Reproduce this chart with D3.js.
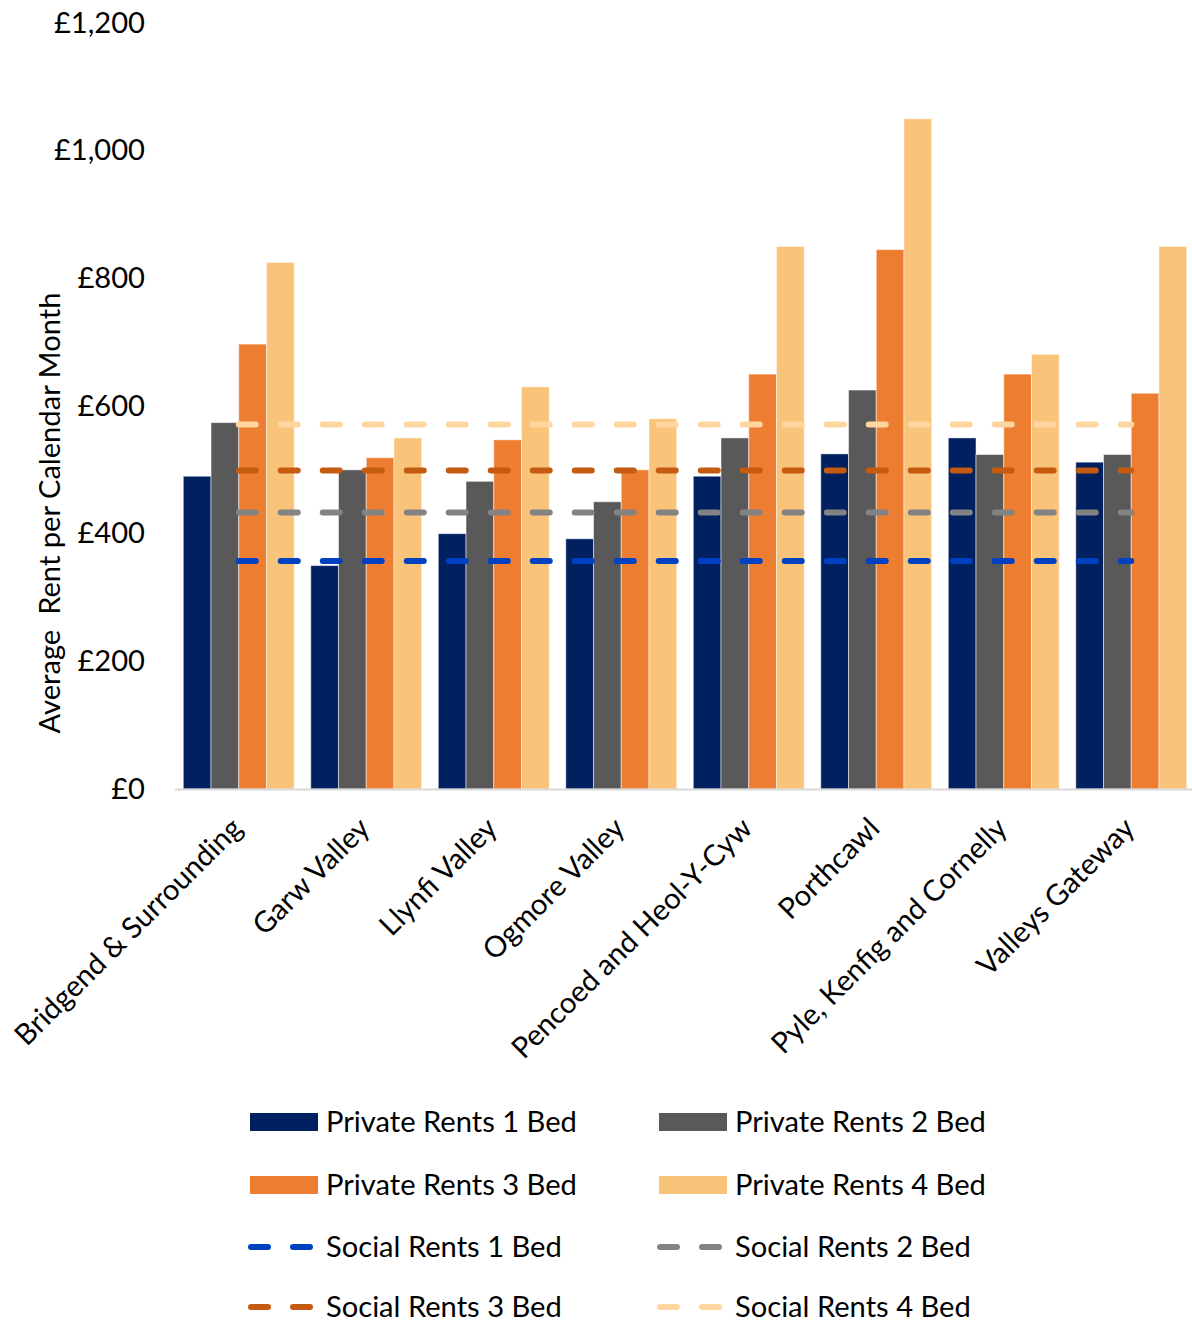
<!DOCTYPE html>
<html>
<head>
<meta charset="utf-8">
<script src="https://cdn.jsdelivr.net/npm/d3@7"></script>
<style>
  html, body { margin: 0; padding: 0; background: #fff; }
  svg text { font-family: Lato, "Open Sans", sans-serif; fill: #000; white-space: pre; }
</style>
</head>
<body>
<svg id="chart" width="1192" height="1323"></svg>
<script>
const categories = ["Bridgend & Surrounding", "Garw Valley", "Llynfi Valley", "Ogmore Valley",
  "Pencoed and Heol-Y-Cyw", "Porthcawl", "Pyle, Kenfig and Cornelly", "Valleys Gateway"];
const private1 = [490, 350, 400, 392, 490, 525, 550, 512];
const private2 = [574, 500, 482, 450, 550, 625, 524, 524];
const private3 = [697, 519, 547, 500, 650, 845, 650, 620];
const private4 = [825, 550, 630, 580, 850, 1050, 681, 850];
const social1 = [357, 357, 357, 357, 357, 357, 357, 357];
const social2 = [433, 433, 433, 433, 433, 433, 433, 433];
const social3 = [499, 499, 499, 499, 499, 499, 499, 499];
const social4 = [571, 571, 571, 571, 571, 571, 571, 571];
const yTicks = [0, 200, 400, 600, 800, 1000, 1200];
const barSeriesNames = ["Private Rents 1 Bed", "Private Rents 2 Bed", "Private Rents 3 Bed", "Private Rents 4 Bed"];
const lineSeriesNames = ["Social Rents 1 Bed", "Social Rents 2 Bed", "Social Rents 3 Bed", "Social Rents 4 Bed"];
const yTitle = "Average  Rent per Calendar Month";

const barColors = ["#002060", "#595959", "#ED7D31", "#FAC37A"];
const lineColors = ["#0041C2", "#838383", "#C55A11", "#FFD6A0"];

const barSeries = [private1, private2, private3, private4];
const lineSeries = [social1, social2, social3, social4];

const svg = d3.select("#chart");

// font size fitting: make legend label match reference width
const probe = svg.append("text").style("font-size", "100px").text("Private Rents 1 Bed");
const w100 = probe.node().getComputedTextLength();
probe.remove();
const fs = 251 / w100 * 100;

const x = d3.scaleBand().domain(categories).range([175, 1195]).paddingInner(0.13).paddingOuter(0.065);
const xs = d3.scaleBand().domain(d3.range(4)).range([0, x.bandwidth()]);
const y = d3.scaleLinear().domain([0, 1200]).range([789, 23]);

// bars
const groups = svg.append("g").selectAll("g").data(categories).join("g")
  .attr("transform", d => `translate(${x(d)},0)`);
groups.selectAll("rect").data((d, i) => barSeries.map((s, k) => ({k, v: s[i]}))).join("rect")
  .attr("x", d => xs(d.k))
  .attr("width", xs.bandwidth())
  .attr("y", d => y(d.v))
  .attr("height", d => y(0) - y(d.v))
  .attr("fill", d => barColors[d.k])
  .attr("stroke", "#ffffff")
  .attr("stroke-opacity", 0.5)
  .attr("stroke-width", 1);

// x axis line
svg.append("line").attr("x1", 175).attr("x2", 1192).attr("y1", y(0) + 0.5).attr("y2", y(0) + 0.5)
  .attr("stroke", "#D9D9D9").attr("stroke-width", 2);

// social lines
const line = d3.line().x((d, i) => x(categories[i]) + x.bandwidth() / 2).y(d => y(d));
lineSeries.forEach((s, k) => {
  svg.append("path").datum(s).attr("d", line)
    .attr("fill", "none").attr("stroke", lineColors[k]).attr("stroke-width", 6)
    .attr("stroke-linecap", "round").attr("stroke-dasharray", "17,25");
});

// y axis labels
const yAxis = d3.axisLeft(y).tickValues(yTicks).tickSize(0).tickPadding(0)
  .tickFormat(d => "£" + d3.format(",")(d));
const ya = svg.append("g").attr("transform", "translate(145,0)").call(yAxis);
ya.select(".domain").remove();
ya.selectAll("text").style("font-size", fs + "px").attr("font-family", null).attr("fill", "#000")
  .style("font-family", "Lato, 'Open Sans', sans-serif");

// y title
svg.append("text").attr("transform", "translate(48,513) rotate(-90)")
  .attr("text-anchor", "middle").attr("dominant-baseline", "central")
  .style("font-size", fs + "px").text(yTitle);

// x labels
svg.append("g").selectAll("text").data(categories).join("text")
  .attr("transform", d => `translate(${x(d) + x.bandwidth() / 2 - 3},${822}) rotate(-45)`)
  .attr("text-anchor", "end").attr("dominant-baseline", "central")
  .style("font-size", fs + "px").text(d => d);

// legend
const legendItems = [];
barSeriesNames.forEach((n, k) => legendItems.push({name: n, type: "bar", color: barColors[k]}));
lineSeriesNames.forEach((n, k) => legendItems.push({name: n, type: "line", color: lineColors[k]}));
const rowY = [1122, 1185, 1247, 1307];
const colX = [250, 659];
const lg = svg.append("g").selectAll("g").data(legendItems).join("g")
  .attr("transform", (d, i) => `translate(${colX[i % 2]},${rowY[Math.floor(i / 2)]})`);
lg.each(function(d) {
  const g = d3.select(this);
  if (d.type === "bar") {
    g.append("rect").attr("x", 0).attr("y", -9).attr("width", 68).attr("height", 18).attr("fill", d.color);
  } else {
    g.append("line").attr("x1", 1).attr("x2", 68).attr("y1", 0).attr("y2", 0)
      .attr("stroke", d.color).attr("stroke-width", 6).attr("stroke-linecap", "round")
      .attr("stroke-dasharray", "17,25");
  }
  g.append("text").attr("x", 76).attr("y", -2).attr("dominant-baseline", "central")
    .style("font-size", fs + "px").text(d.name);
});
</script>
</body>
</html>
